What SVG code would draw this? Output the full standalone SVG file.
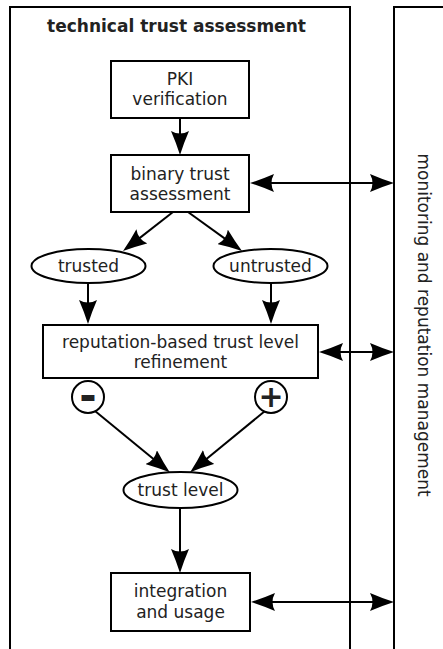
<svg xmlns="http://www.w3.org/2000/svg" width="443" height="649" viewBox="0 0 443 649">
<style>
.frame{fill:none;stroke:#000;stroke-width:2}
.box{fill:#fff;stroke:#000;stroke-width:2}
.t{font-family:"DejaVu Sans",sans-serif;font-size:17px;fill:#222;text-anchor:middle}
.title{font-family:"DejaVu Sans",sans-serif;font-size:17px;font-weight:bold;fill:#222;text-anchor:middle}
.sign{font-family:"DejaVu Sans",sans-serif;font-size:30px;font-weight:bold;fill:#222;text-anchor:middle}
.c{fill:none;stroke:#000;stroke-width:2}
</style>
<defs>
<marker id="ah" viewBox="0 0 24 18" refX="14" refY="9" markerWidth="24" markerHeight="18" markerUnits="userSpaceOnUse" orient="auto-start-reverse">
<path d="M24,9 Q12,5.2 0,0 Q5,9 0,18 Q12,12.8 24,9 Z" fill="#000"/>
</marker>
</defs>
<g id="lanes">
<path class="frame" d="M10,649 V7 H350 V649"/>
<path class="frame" d="M394,649 V7 H445"/>
<text class="title" x="176.5" y="32">technical trust assessment</text>
<text class="t" transform="translate(418,325) rotate(90)">monitoring and reputation management</text>
</g>
<g id="connectors">
<path class="c" d="M180,118 V145" marker-end="url(#ah)"/>
<path class="c" d="M173,212 L130.9,244.9" marker-end="url(#ah)"/>
<path class="c" d="M188,212 L233.9,245.1" marker-end="url(#ah)"/>
<path class="c" d="M88,283 V314" marker-end="url(#ah)"/>
<path class="c" d="M271,283 V314" marker-end="url(#ah)"/>
<path class="c" d="M95,411 L162,466" marker-end="url(#ah)"/>
<path class="c" d="M265,411 L197.9,465.9" marker-end="url(#ah)"/>
<path class="c" d="M180,508 V563" marker-end="url(#ah)"/>
<path class="c" d="M260,183 H384" marker-start="url(#ah)" marker-end="url(#ah)"/>
<path class="c" d="M329,352 H384" marker-start="url(#ah)" marker-end="url(#ah)"/>
<path class="c" d="M261,602 H384" marker-start="url(#ah)" marker-end="url(#ah)"/>
</g>
<g id="pki">
<rect class="box" x="111" y="61" width="138" height="57"/>
<text class="t" x="180" y="85">PKI</text>
<text class="t" x="180" y="105">verification</text>
</g>
<g id="binary">
<rect class="box" x="111" y="155" width="138" height="57"/>
<text class="t" x="180" y="180">binary trust</text>
<text class="t" x="180" y="200">assessment</text>
</g>
<g id="trusted">
<ellipse class="box" cx="88.5" cy="266" rx="57" ry="17"/>
<text class="t" x="88.5" y="272">trusted</text>
</g>
<g id="untrusted">
<ellipse class="box" cx="270.5" cy="266" rx="57" ry="17"/>
<text class="t" x="270.5" y="272">untrusted</text>
</g>
<g id="refinement">
<rect class="box" x="43" y="325" width="275" height="53"/>
<text class="t" x="180.5" y="348">reputation-based trust level</text>
<text class="t" x="180.5" y="368">refinement</text>
</g>
<g id="minus">
<circle class="box" cx="88" cy="397" r="16"/>
<text class="sign" x="88" y="409.5" style="font-size:42px">-</text>
</g>
<g id="plus">
<circle class="box" cx="271" cy="397" r="16"/>
<text class="sign" x="271" y="407">+</text>
</g>
<g id="trustlevel">
<ellipse class="box" cx="180.5" cy="490" rx="57" ry="18"/>
<text class="t" x="180.5" y="496">trust level</text>
</g>
<g id="integration">
<rect class="box" x="111" y="573" width="139" height="58"/>
<text class="t" x="180.5" y="597">integration</text>
<text class="t" x="180.5" y="618">and usage</text>
</g>
</svg>
